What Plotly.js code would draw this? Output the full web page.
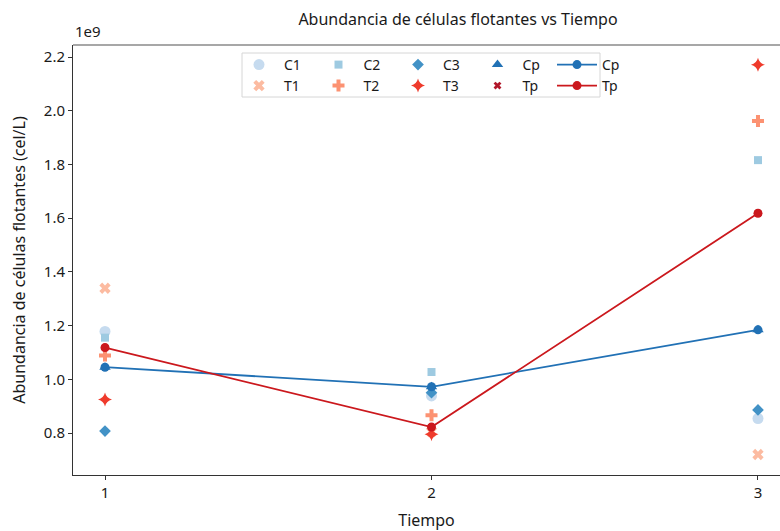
<!DOCTYPE html>
<html>
<head>
<meta charset="utf-8">
<script src="https://cdn.plot.ly/plotly-3.0.1.min.js"></script>
<style>html,body{margin:0;padding:0;background:#fff;overflow:hidden}</style>
</head>
<body>
<div id="chart" style="width:780px;height:531px"></div>
<script>
// Time points
const tiempo = [1, 2, 3];
// Cell abundance (units of 1e9 cel/L)
const C1 = [1.178, 0.938, 0.854];
const C2 = [1.155, 1.027, 1.816];
const C3 = [0.807, 0.950, 0.886];
const Cp = [1.045, 0.972, 1.184];
const T1 = [1.339, 0.805, 0.720];
const T2 = [1.089, 0.866, 1.962];
const T3 = [0.925, 0.795, 2.171];
const Tp = [1.118, 0.822, 1.618];
const yTicks = [0.8, 1.0, 1.2, 1.4, 1.6, 1.8, 2.0, 2.2];

const FONT = 'Noto Sans';
const TXT = '#1a1a1a';

function pts(name, y, symbol, color, size, legend) {
  return {x: tiempo, y: y, name: name, type: 'scatter', mode: 'markers',
    marker: {symbol: symbol, color: color, size: size, line: {width: 0}},
    legend: legend};
}
function line(name, y, color, legend) {
  return {x: tiempo, y: y, name: name, type: 'scatter', mode: 'lines+markers',
    line: {color: color, width: 1.8},
    marker: {symbol: 'circle', color: color, size: 9},
    legend: legend};
}

const traces = [
  pts('C1', C1, 'circle', '#c6dbef', 11, 'legend'),
  pts('T1', T1, 'x', '#fcbba1', 10, 'legend2'),
  pts('C2', C2, 'square', '#9ecae1', 8, 'legend'),
  pts('T2', T2, 'cross', '#fc9272', 10, 'legend2'),
  pts('C3', C3, 'diamond', '#4292c6', 9, 'legend'),
  pts('T3', T3, 'star-diamond', '#ef3b2c', 10, 'legend2'),
  pts('Cp', Cp, 'triangle-up', '#2171b5', 10, 'legend'),
  pts('Tp', Tp, 'x', '#b2182b', 7, 'legend2'),
  line('Cp', Cp, '#2171b5', 'legend'),
  line('Tp', Tp, '#cb181d', 'legend2')
];

const L = 73, R = 780, T = 45, B = 475;
const W = R - L, H = B - T;
function px(x) { return (x - L) / W; }
function py(y) { return (B - y) / H; }

function legendAt(xpx, ypx) {
  return {orientation: 'h', x: px(xpx), y: py(ypx), xanchor: 'left', yanchor: 'middle',
    entrywidth: 24.5, entrywidthmode: 'pixels', itemwidth: 40,
    bgcolor: 'rgba(255,255,255,0)', borderwidth: 0,
    font: {family: FONT, size: 14, color: TXT}};
}

const layout = {
  width: 780, height: 531,
  margin: {l: L, r: 780 - R, t: T, b: 531 - B, pad: 0},
  paper_bgcolor: '#fff', plot_bgcolor: '#fff',
  font: {family: FONT, size: 15, color: TXT},
  title: {text: 'Abundancia de células flotantes vs Tiempo',
    x: 458 / 780, xref: 'container', xanchor: 'center',
    y: 1 - 19 / 531, yref: 'container', yanchor: 'middle',
    font: {family: FONT, size: 16, color: TXT}},
  xaxis: {range: [0.902, 3.0674], tickvals: tiempo, ticktext: tiempo.map(String),
    showgrid: false, zeroline: false, showline: true, linecolor: '#333', linewidth: 1,
    ticks: 'outside', ticklen: 4, tickcolor: '#333',
    tickfont: {family: FONT, size: 15, color: TXT},
    title: {text: 'Tiempo', standoff: 14, font: {family: FONT, size: 16, color: TXT}}},
  yaxis: {range: [0.6436, 2.2447], tickvals: yTicks, ticktext: yTicks.map(v => v.toFixed(1)),
    showgrid: false, zeroline: false, showline: true, linecolor: '#333', linewidth: 1,
    ticks: 'outside', ticklen: 4, tickcolor: '#333',
    tickfont: {family: FONT, size: 15, color: TXT},
    title: {text: 'Abundancia de células flotantes (cel/L)', standoff: 14,
      font: {family: FONT, size: 16, color: TXT}}},
  showlegend: true,
  legend: legendAt(234, 65),
  legend2: legendAt(234, 86),
  shapes: [
    {type: 'line', xref: 'paper', yref: 'paper', x0: 0, x1: 1, y0: 1, y1: 1,
      line: {color: '#8a8a8a', width: 1.5}},
    {type: 'rect', xref: 'paper', yref: 'paper', layer: 'below',
      x0: px(242), x1: px(600), y0: py(97), y1: py(53),
      line: {color: '#d6d6d6', width: 1}, fillcolor: 'rgba(255,255,255,0.8)'}
  ],
  annotations: [
    {text: '1e9', xref: 'paper', yref: 'paper', x: 0, y: 1, xanchor: 'left', yanchor: 'bottom',
      yshift: 2, showarrow: false, font: {family: FONT, size: 15, color: TXT}}
  ]
};

Plotly.newPlot('chart', traces, layout, {displayModeBar: false, staticPlot: true});
</script>
</body>
</html>
